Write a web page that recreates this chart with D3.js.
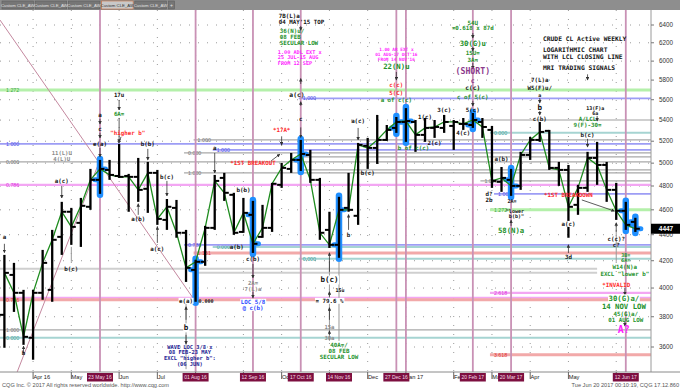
<!DOCTYPE html>
<html>
<head>
<meta charset="utf-8">
<script src="https://cdn.jsdelivr.net/npm/d3@7"></script>
<style>
  html, body { margin: 0; padding: 0; background: #fff; }
  svg { display: block; }
  .ann { font-family: 'DejaVu Sans Mono', monospace; font-weight: bold; }
  .ax { font-family: 'Liberation Sans', Arial, sans-serif; }
</style>
</head>
<body>
<svg id="chart" width="680" height="388"></svg>
<script>
// weekly bars, one per Monday
const firstWeek = '2016-03-14'
const endWeeks = '2017-06-20'

const open = [
  3813, 4095, 3966, 3660, 3966, 3987, 4383, 4584, 4494, 4625,
  4853, 4940, 4887, 4887, 4879, 4776, 4914, 4518, 4616, 4415,
  4132, 4192, 4454, 4870, 4725, 4422, 4559, 4383, 4454, 4810,
  4949, 5029, 5074, 4853, 4438, 4321, 4616, 4551, 5157, 5138,
  5212, 5325, 5382, 5382, 5259, 5325, 5325, 5344, 5363, 5353,
  5382, 5306, 4836, 4853, 4801, 5074, 5212, 5297, 4958, 4940,
  4641, 4784, 5047, 4984, 4767, 4592, 4502
]
const high = [
  4244, 4184, 3987, 3987, 4282, 4438, 4666, 4616, 4699, 4949,
  5029, 5029, 5175, 4905, 5047, 5011, 4940, 4690, 4682, 4438,
  4207, 4470, 4896, 4914, 4742, 4699, 4674, 4641, 4827, 5002,
  5092, 5212, 5120, 4870, 4584, 4708, 4914, 5184, 5231, 5450,
  5353, 5430, 5517, 5401, 5420, 5401, 5450, 5401, 5420, 5469,
  5420, 5344, 4966, 4949, 5102, 5240, 5382, 5306, 5011, 4984,
  4810, 5102, 5194, 5011, 4827, 4666, 4535
]
const low = [
  3595, 3833, 3614, 3519, 3917, 3903, 4244, 4321, 4305, 4600,
  4733, 4853, 4870, 4584, 4666, 4575, 4478, 4438, 4376, 4044,
  3903, 4162, 4438, 4674, 4399, 4415, 4259, 4376, 4422, 4784,
  4914, 4931, 4827, 4360, 4297, 4222, 4584, 4478, 4949, 4993,
  5203, 5278, 5194, 5102, 5194, 5231, 5278, 5120, 5306, 5325,
  5231, 4784, 4750, 4716, 4767, 5029, 5194, 4940, 4801, 4376,
  4559, 4750, 4810, 4666, 4518, 4438, 4422
]
const close = [
  4110, 3966, 3666, 3966, 4184, 4360, 4584, 4462, 4633, 4853,
  4949, 4896, 4879, 4879, 4767, 4914, 4526, 4625, 4415, 4147,
  4192, 4454, 4844, 4742, 4415, 4575, 4329, 4454, 4819, 4958,
  5029, 5083, 4853, 4415, 4321, 4600, 4600, 5166, 5138, 5212,
  5306, 5382, 5391, 5259, 5325, 5334, 5382, 5382, 5363, 5401,
  5334, 4844, 4870, 4801, 5074, 5212, 5287, 4958, 4940, 4625,
  4784, 5047, 4984, 4767, 4592, 4478, 4447
]
const lastPrice = 4447

const highlightWeeks = ['2016-05-23', '2016-08-01', '2016-09-12', '2016-10-17', '2016-11-14',
  '2016-12-26', '2017-01-02', '2017-02-20', '2017-03-20', '2017-06-12', '2017-06-19']
const markerWeeks = ['2016-05-23', '2016-08-01', '2016-09-12', '2016-10-17', '2016-12-26',
  '2017-01-02', '2017-02-20', '2017-03-20', '2017-06-12']
const dateBoxes = [
  ['2016-05-23', '23 May 16'], ['2016-08-01', '01 Aug 16'], ['2016-09-12', '12 Sep 16'],
  ['2016-10-17', '17 Oct 16'], ['2016-11-14', '14 Nov 16'], ['2016-12-26', '27 Dec 16'],
  ['2017-02-20', '20 Feb 17'], ['2017-03-20', '20 Mar 17'], ['2017-06-12', '12 Jun 17']
]
// month ticks; labels hidden behind the date boxes are left empty, cut ones as seen
const monthTicks = [
  ['2016-04-04', 'Apr 16'], ['2016-05-02', 'May'], ['2016-06-06', 'Jun'], ['2016-07-04', 'Jul'],
  ['2016-08-01', ''], ['2016-09-05', ''], ['2016-10-03', 'Oc'], ['2016-11-07', ''],
  ['2016-12-05', 'Dec'], ['2017-01-02', 'Jan 17'], ['2017-02-06', 'Fe'], ['2017-03-06', 'Ma'],
  ['2017-04-03', 'Apr'], ['2017-05-01', 'May'], ['2017-06-05', '']
]
const priceTicks = [3600, 3800, 4000, 4200, 4400, 4600, 4800, 5000, 5200, 5400, 5600, 5800, 6000, 6200, 6400]

// retracement / projection levels: price, start week (null = whole chart), label, end week
const greenLevels = [[5699, null, '1.272'], [4600, '2017-03-06', '1.272']]
const blueLevels = [[5613, '2016-10-17', '1.000'], [5175, null, '1.000'], [5120, '2016-08-15', '1.000'],
  [4321, '2016-07-25', '0.786'], [4733, '2017-03-09', '1.000']]
const grayLevels = [[5011, null, '0.000'], [5212, '2016-08-01', '1.000'], [5092, '2016-07-25', '0.000'],
  [4914, '2016-07-25', '1.000'], [3712, null, '1.000'], [4844, '2017-02-27', '1.000'],
  [5056, '2016-10-17', ''], [4940, '2016-10-17', '']]
const lightLevels = [[5401, '2017-02-27', ''], [4140, null, '', '2017-05-22'], [4110, '2016-08-01', '', '2017-05-22']]
const pinkLevels = [[4810, null, '0.786'], [3931, null, ''], [3966, '2017-03-06', '2.618']]
const salmonLevels = [[3917, null, '0.786'], [4259, '2016-08-01', '1.161'], [3550, '2017-03-06', '3.618']]
const tealLevels = [[3660, null, '0.000'], [4305, '2016-08-15', '0.000'], [4214, '2016-10-17', '0.000'],
  [5278, '2017-03-06', '0.000']]

const trendLines = [
  ['2016-03-10T18:40:00Z', 6457, '2016-08-01', 3903],
  ['2016-03-22', 3414, '2016-05-23', 5029]
]

// labels: kind, week index, price, lines, anchor, white box
const annotations = [
  ['black', 28.7, 6504, ['7B(L)a', "04 MAY'15 TOP"], 'start'],
  ['green', 28.8, 6332, ['36(N)u/', '08 FEB', 'SECULAR LOW'], 'start'],
  ['magenta', 28.6, 6099, ['1.00 ADL EXT x', '25 JUL-15 AUG', 'FROM 12 SEP'], 'start'],
  ['blackMid', 30.6, 5649, ['a(c)']],
  ['black', 31, 5411, ['c']],
  ['red', 29, 5306, ['*17A*']],
  ['red', 26, 5002, ['*1ST BREAKOUT']],
  ['red', 12.9, 5278, ['"higher b"']],
  ['black', 12, 5649, ['17u']],
  ['green', 12, 5460, ['6A=']],
  ['black', 10, 5450, ['a']],
  ['black', 10, 5316, ['c']],
  ['black', 10, 5175, ['e(a)']],
  ['gray', 6, 5092, ['11(L)U', '4(L)U']],
  ['black', 6, 4844, ['a(c)']],
  ['black', 7, 4140, ['b(c)']],
  ['black', 15, 5175, ['b(b)']],
  ['black', 17, 4879, ['b(c)']],
  ['black', 14, 4526, ['a(b)']],
  ['black', 16, 4290, ['a(c)']],
  ['black', 19, 3910, ['e(a)'], 'middle', true],
  ['blackSmall', 20.3, 3910, ['0.000'], 'start'],
  ['blackBig', 19, 3726, ['b'], 'middle', true],
  ['navy', 19.4, 3601, ['WAVE LOC 3/8 x', '08 FEB-23 MAY', 'EXCL "higher b":', '(06 JUN)']],
  ['gray', 26, 4037, ['2A=', '7(L)a']],
  ['blue', 26, 3903, ['LOC 5/8', '@ c(b)'], 'middle', true],
  ['black', 26, 4214, ['c(b)']],
  ['black', 24.3, 4305, ['a(b)']],
  ['black', 25, 4767, ['b(b)']],
  ['black', 22, 5138, ['a']],
  ['blackBig', 34, 4059, ['b(c)'], 'middle', true],
  ['blackSmall', 35.1, 3987, ['15u']],
  ['black', 34, 3910, ['= 79.6 %'], 'middle', true],
  ['gray', 34, 3732, ['15a']],
  ['gray', 34, 3660, ['30a']],
  ['green', 35, 3614, ['40A=/', '08 FEB', 'SECULAR LOW']],
  ['black', 36, 4399, ['b']],
  ['black', 37, 5391, ['a(c)']],
  ['black', 38, 4914, ['b(c)']],
  ['greenBig', 41, 5938, ['22(N)u']],
  ['magentaSmall', 41, 6121, ['1.00 AR EXT x', "01 AUG-17 OCT'16", "FROM 14 NOV'16"]],
  ['red', 41, 5750, ['c(c)']],
  ['red', 41, 5669, ['5(C)']],
  ['green', 41, 5598, ['a of c(c)']],
  ['green', 42.8, 5138, ['b of c(c)']],
  ['black', 44, 5430, ['1(c)']],
  ['black', 45, 5184, ['2(c)']],
  ['black', 46, 5499, ['3(c)']],
  ['black', 48, 5278, ['4(c)']],
  ['black', 49, 5499, ['5(c)']],
  ['purpleBig', 49, 5890, ['(SHORT)']],
  ['purple', 49, 5795, ['c']],
  ['blackMid', 49, 5722, ['c(c)']],
  ['green', 49, 5628, ['c of 5(c)']],
  ['green', 49, 6423, ['54U']],
  ['green', 49, 6366, ['=0.618 x 87d']],
  ['greenBig', 49, 6198, ['30(G)u']],
  ['green', 49, 6087, ['1SU=']],
  ['green', 49, 6008, ['3A=']],
  ['black', 56, 5801, ['7(L)a']],
  ['black', 56, 5715, ['W5(F)u/']],
  ['blackSmall', 56, 5650, ['a']],
  ['blackBig', 56, 5528, ['b']],
  ['black', 56, 5411, ['c(b)']],
  ['blackSmall', 61.8, 5515, ['13(F)a', '6a']],
  ['green', 61, 5410, ['A/LCL', '9(F)-30=']],
  ['black', 61, 5259, ['b(c)']],
  ['red', 59, 4725, ['*1ST BREAKDOWN']],
  ['black', 59, 4486, ['a(c)'], 'middle', true],
  ['black', 59, 4229, ['3d']],
  ['black', 64, 4368, ['c(c)?', 'c?']],
  ['greenSmall', 65, 4240, ['3B=', '6A=']],
  ['green', 64.9, 4150, ['W14(N)a', 'EXCL "lower b"']],
  ['red', 64, 4023, ['*INVALID']],
  ['greenBig', 64.8, 3924, ['30(G)a/', '14 NOV LOW'], 'middle', true],
  ['green', 65, 3820, ['45(G)a/', '01 AUG LOW']],
  ['magentaBig', 64.8, 3712, ['A?']],
  ['greenBig', 53, 4430, ['58(N)a']],
  ['blackSmall', 53.4, 4590, ['"lower', ' b(b)"']],
  ['blackSmall', 53.1, 4668, ['2A=']],
  ['black', 50.7, 4735, ['d?', '2b']],
  ['black', 52, 5038, ['a(b)']],
  ['black', 0, 4380, ['a']],
  ['black', 2, 3563, ['b']]
]

// arrows: from week index, price -> to week index, price (head at the end)
const arrows = [
  [0, 4329, 0, 4262], [2, 3556, 2, 3605], [6, 4801, 6, 4699], [10, 5411, 10, 5363],
  [10, 5278, 10, 5231], [10, 5138, 10, 5056], [12, 5421, 12, 5190], [12, 5598, 12, 5499],
  [12.2, 5240, 11.95, 5184], [14, 4559, 14, 4650], [15, 5129, 15, 5029], [16, 4336, 16, 4462],
  [17, 4844, 17, 4716], [19, 3779, 19, 3868], [19, 3679, 19, 3620], [22, 5092, 22, 4914],
  [26, 4176, 26, 4074], [26, 3973, 26, 3931], [27.9, 5020, 28.8, 5080], [29, 5240, 29, 5165],
  [31, 6390, 31, 6340], [31, 5760, 31, 5815], [31, 5540, 31, 5580], [31, 5330, 31, 5235],
  [34, 4118, 34, 4259], [34, 3938, 34, 3973], [34, 3779, 34, 3861], [34, 3679, 34, 3705],
  [36, 4438, 36, 4560], [37, 5325, 37, 5212], [41, 5885, 41, 5801], [49, 6309, 49, 6253],
  [49, 6153, 49, 6110], [49, 5980, 49, 5917], [49, 5588, 49, 5538], [56, 5617, 56, 5568],
  [56, 5489, 56, 5450], [62, 5440, 62, 5391], [61, 5222, 61, 5147], [61, 5860, 61, 5801],
  [59, 4259, 59, 4321], [64, 4423, 64, 4494], [64.9, 4002, 64.9, 3952], [64.9, 3766, 64.9, 3739],
  [53, 4470, 53, 4515], [60.4, 4682, 63.8, 4590]
]
const stems = [[7, 4305, 7, 4192], [35, 4192, 35, 3640], [19, 3890, 19, 3460], [34, 4200, 34, 3640], [64, 4438, 64, 4192]]

const titleLines = ['CRUDE CL Active WEEKLY', 'LOGARITHMIC CHART', 'WITH LCL CLOSING LINE', 'MRI TRADING SIGNALS']
const tabNames = ['Custom CLE_AW', 'Custom CLE_AW', 'Custom CLE_AW', 'Custom CLE_AW', 'Custom CLE_AW']

// ---------------------------------------------------------------
const svg = d3.select('#chart')
const plotR = 651, plotT = 10, plotB = 372

const parse = s => new Date(s.length > 10 ? s : s + 'T00:00:00Z')
const WEEK = 7 * 864e5
const t0 = parse(firstWeek).getTime()
const weeks = d3.utcMonday.range(parse(firstWeek), parse(endWeeks))

const x = d3.scaleUtc()
  .domain([Date.UTC(2016, 2, 10, 18, 40), Date.UTC(2017, 5, 30, 11)])
  .range([0, plotR])
const y = d3.scaleLog().domain([3600, 6400]).range([347, 25])
const xAt = i => x(new Date(t0 + i * WEEK))
const fmtDay = d3.utcFormat('%Y-%m-%d')

svg.append('rect').attr('width', 680).attr('height', 388).attr('fill', '#fff')

const defs = svg.append('defs')
defs.append('clipPath').attr('id', 'plot')
  .append('rect').attr('x', 0).attr('y', plotT).attr('width', plotR).attr('height', plotB - plotT)
defs.append('marker').attr('id', 'ah').attr('viewBox', '0 0 6 6')
  .attr('refX', 5).attr('refY', 3).attr('markerWidth', 3.5).attr('markerHeight', 3.5)
  .attr('markerUnits', 'userSpaceOnUse').attr('orient', 'auto')
  .append('path').attr('d', 'M0,0L6,3L0,6Z').attr('fill', '#333')

const g = svg.append('g').attr('clip-path', 'url(#plot)')

// dotted grid
g.append('g').selectAll('line').data(monthTicks).join('line')
  .attr('x1', d => x(parse(d[0]))).attr('x2', d => x(parse(d[0])))
  .attr('y1', plotT).attr('y2', plotB)
  .attr('stroke', '#9a9a9a').attr('stroke-width', 1).attr('stroke-dasharray', '1,8')
g.append('g').selectAll('line').data(priceTicks).join('line')
  .attr('x1', 0).attr('x2', plotR).attr('y1', d => y(d)).attr('y2', d => y(d))
  .attr('stroke', '#9a9a9a').attr('stroke-width', 1).attr('stroke-dasharray', '1,8')

// levels
const levelStyle = {
  light: { data: lightLevels, stroke: '#cfcfcf', w: 2, text: '#888' },
  gray: { data: grayLevels, stroke: '#a8a8a8', w: 1.3, text: '#777' },
  teal: { data: tealLevels, stroke: '#a6d4d2', w: 2, text: '#3a9e9a' },
  blue: { data: blueLevels, stroke: '#9d9df5', w: 1.8, text: '#4a4ae8' },
  green: { data: greenLevels, stroke: '#b4f0aa', w: 3, text: '#3aa83a' },
  pink: { data: pinkLevels, stroke: '#f3a6f3', w: 2.2, text: '#e030e0' },
  salmon: { data: salmonLevels, stroke: '#f2a9a9', w: 3, text: '#e03535' }
}
Object.values(levelStyle).forEach(st => {
  const lg = g.append('g')
  st.data.forEach(([p, start, label, end]) => {
    const x1 = start ? x(parse(start)) - 2 : 0
    const x2 = end ? x(parse(end)) : plotR
    lg.append('line').attr('x1', x1).attr('x2', x2).attr('y1', y(p)).attr('y2', y(p))
      .attr('stroke', st.stroke).attr('stroke-width', st.w)
    if (label) {
      lg.append('text').attr('class', 'ax').attr('x', x1 + (start ? 4 : 6)).attr('y', y(p)).attr('dy', '0.35em')
        .attr('font-size', 5.3).attr('fill', st.text).text(label)
    }
  })
})

// vertical marker lines
g.append('g').selectAll('line').data(markerWeeks).join('line')
  .attr('x1', d => x(parse(d))).attr('x2', d => x(parse(d)))
  .attr('y1', plotT).attr('y2', plotB)
  .attr('stroke', '#c991b5').attr('stroke-width', 1.8)

// trend lines
g.append('g').selectAll('line').data(trendLines).join('line')
  .attr('x1', d => x(parse(d[0]))).attr('y1', d => y(d[1]))
  .attr('x2', d => x(parse(d[2]))).attr('y2', d => y(d[3]))
  .attr('stroke', '#c4889f').attr('stroke-width', 1)

// stems
g.append('g').selectAll('line').data(stems).join('line')
  .attr('x1', d => xAt(d[0])).attr('y1', d => y(d[1]))
  .attr('x2', d => xAt(d[2])).attr('y2', d => y(d[3]))
  .attr('stroke', '#999').attr('stroke-width', 1)

// bars
const hlSet = new Set(highlightWeeks)
const bars = weeks.map((d, i) => ({ date: d, o: open[i], h: high[i], l: low[i], c: close[i], hl: hlSet.has(fmtDay(d)) }))

const blue = g.append('g').attr('stroke', '#1f8fff').attr('stroke-linecap', 'round')
bars.filter(b => b.hl).forEach(b => {
  const bx = x(b.date)
  blue.append('line').attr('x1', bx).attr('x2', bx).attr('y1', y(b.h) - 1).attr('y2', y(b.l) + 1).attr('stroke-width', 6.5)
  blue.append('line').attr('x1', bx - 5).attr('x2', bx).attr('y1', y(b.o)).attr('y2', y(b.o)).attr('stroke-width', 5)
  blue.append('line').attr('x1', bx).attr('x2', bx + 5.5).attr('y1', y(b.c)).attr('y2', y(b.c)).attr('stroke-width', 5)
})

// closing line
g.append('path').datum(bars)
  .attr('fill', 'none').attr('stroke', '#1e8c1e').attr('stroke-width', 1.3)
  .attr('d', d3.line().x(d => x(d.date)).y(d => y(d.c)))

const blk = g.append('g').attr('stroke', '#000')
bars.forEach(b => {
  const bx = x(b.date)
  blk.append('line').attr('x1', bx).attr('x2', bx).attr('y1', y(b.h)).attr('y2', y(b.l)).attr('stroke-width', 2.3)
  blk.append('line').attr('x1', bx - 4.5).attr('x2', bx).attr('y1', y(b.o)).attr('y2', y(b.o)).attr('stroke-width', 2)
  blk.append('line').attr('x1', bx).attr('x2', bx + 4.5).attr('y1', y(b.c)).attr('y2', y(b.c)).attr('stroke-width', 2)
})

// arrows
g.append('g').selectAll('line').data(arrows).join('line')
  .attr('x1', d => xAt(d[0])).attr('y1', d => y(d[1]))
  .attr('x2', d => xAt(d[2])).attr('y2', d => y(d[3]))
  .attr('stroke', '#333').attr('stroke-width', 0.8).attr('marker-end', 'url(#ah)')

// annotations
const annStyle = {
  black: { size: 5.8, fill: '#111' },
  blackMid: { size: 6.3, fill: '#111' },
  blackBig: { size: 7.5, fill: '#111' },
  blackSmall: { size: 5, fill: '#111' },
  gray: { size: 5.6, fill: '#8a8a8a' },
  green: { size: 5.8, fill: '#23912a' },
  greenSmall: { size: 5, fill: '#23912a' },
  greenBig: { size: 7.3, fill: '#23912a' },
  red: { size: 5.8, fill: '#ff2a2a' },
  magenta: { size: 5.2, fill: '#ff1eff' },
  magentaSmall: { size: 4.4, fill: '#ff1eff' },
  magentaBig: { size: 10, fill: '#ff1eff' },
  navy: { size: 5.4, fill: '#1c1c92' },
  blue: { size: 5.8, fill: '#2848ff' },
  purple: { size: 6.6, fill: '#8b3a8b' },
  purpleBig: { size: 8.2, fill: '#8b3a8b' }
}
const ag = svg.append('g').attr('class', 'ann').attr('clip-path', 'url(#plot)')
annotations.forEach(([kind, i, p, lines, anchor, boxed]) => {
  const st = annStyle[kind]
  const lh = st.size * 1.05
  const blockG = ag.append('g')
  const ts = lines.map((line, k) => blockG.append('text')
    .attr('x', xAt(i)).attr('y', y(p) + k * lh).attr('dy', '0.35em')
    .attr('text-anchor', anchor || 'middle')
    .attr('font-size', st.size).attr('fill', st.fill)
    .style('white-space', 'pre').text(line))
  if (boxed) {
    ts.forEach(t => {
      const bb = t.node().getBBox()
      blockG.insert('rect', 'text').attr('x', bb.x - 0.5).attr('y', bb.y).attr('width', bb.width + 1).attr('height', bb.height)
        .attr('fill', '#fff')
    })
  }
})

// title block
const titleY = [39, 50, 57, 68]
svg.append('g').attr('class', 'ann').selectAll('text').data(titleLines).join('text')
  .attr('x', 543).attr('y', (d, k) => titleY[k]).attr('dy', '0.35em')
  .attr('font-size', 6.3).attr('fill', '#111').text(d => d)

// frame
svg.append('line').attr('x1', plotR).attr('x2', plotR).attr('y1', plotT).attr('y2', plotB).attr('stroke', '#9a9a9a')
svg.append('line').attr('x1', 0).attr('x2', 680).attr('y1', plotB).attr('y2', plotB).attr('stroke', '#8a8a8a')

// right price axis
const ra = svg.append('g').attr('class', 'ax')
priceTicks.forEach(p => {
  ra.append('line').attr('x1', plotR).attr('x2', plotR + 3).attr('y1', y(p)).attr('y2', y(p)).attr('stroke', '#777')
  ra.append('text').attr('x', 666).attr('y', y(p)).attr('dy', '0.35em').attr('text-anchor', 'middle')
    .attr('font-size', 6.3).attr('fill', '#333').text(d3.format('d')(p))
})
ra.append('rect').attr('x', plotR).attr('y', y(lastPrice) - 5).attr('width', 680 - plotR).attr('height', 10).attr('fill', '#000')
ra.append('text').attr('x', 666).attr('y', y(lastPrice)).attr('dy', '0.35em').attr('text-anchor', 'middle')
  .attr('font-size', 6.5).attr('font-weight', 'bold').attr('fill', '#fff').text(lastPrice)

// bottom time axis
const ba = svg.append('g').attr('class', 'ax')
monthTicks.forEach(([d, label]) => {
  const mx = x(parse(d))
  ba.append('line').attr('x1', mx).attr('x2', mx).attr('y1', plotB).attr('y2', plotB + 7).attr('stroke', '#666')
  if (label) {
    ba.append('text').attr('x', mx + 0.3).attr('y', plotB + 5).attr('dy', '0.35em')
      .attr('font-size', 5.7).attr('fill', '#222').text(label)
  }
})
dateBoxes.forEach(([d, label]) => {
  const bx = x(parse(d))
  ba.append('rect').attr('x', bx - 13).attr('y', plotB + 1).attr('width', 26).attr('height', 8.5).attr('fill', '#7d0f40')
  ba.append('text').attr('x', bx).attr('y', plotB + 5.3).attr('dy', '0.35em').attr('text-anchor', 'middle')
    .attr('font-size', 5).attr('fill', '#f4dce6').text(label)
})

// footer
svg.append('text').attr('class', 'ax').attr('x', 2).attr('y', 387).attr('font-size', 5.6).attr('fill', '#555')
  .text('CQG Inc. \u00a9 2017 All rights reserved worldwide. http://www.cqg.com')
svg.append('text').attr('class', 'ax').attr('x', 679).attr('y', 387).attr('text-anchor', 'end').attr('font-size', 5.6).attr('fill', '#555')
  .text('Tue Jun 20 2017 00:10:19, CQG 17.12.860')

// tab strip
svg.append('rect').attr('x', 0).attr('y', 0).attr('width', 680).attr('height', plotT).attr('fill', '#8e8e8e')
const tg = svg.append('g').attr('class', 'ax')
tabNames.forEach((name, k) => {
  const tx = 2 + k * 33.2
  tg.append('rect').attr('x', tx).attr('y', 1).attr('width', 31.5).attr('height', 8)
    .attr('fill', k === 3 ? '#c8c8c8' : '#767676').attr('stroke', k === 3 ? '#d0703c' : '#5e5e5e').attr('stroke-width', 0.6)
  tg.append('text').attr('x', tx + 15.7).attr('y', 5.2).attr('dy', '0.35em').attr('text-anchor', 'middle')
    .attr('font-size', 4.3).attr('fill', k === 3 ? '#333' : '#e4e4e4').text(name)
})
tg.append('rect').attr('x', 168.5).attr('y', 1).attr('width', 6).attr('height', 8).attr('fill', '#767676').attr('stroke', '#5e5e5e').attr('stroke-width', 0.6)
tg.append('text').attr('x', 171.5).attr('y', 5.2).attr('dy', '0.35em').attr('text-anchor', 'middle').attr('font-size', 5).attr('fill', '#e4e4e4').text('+')
</script>
</body>
</html>
